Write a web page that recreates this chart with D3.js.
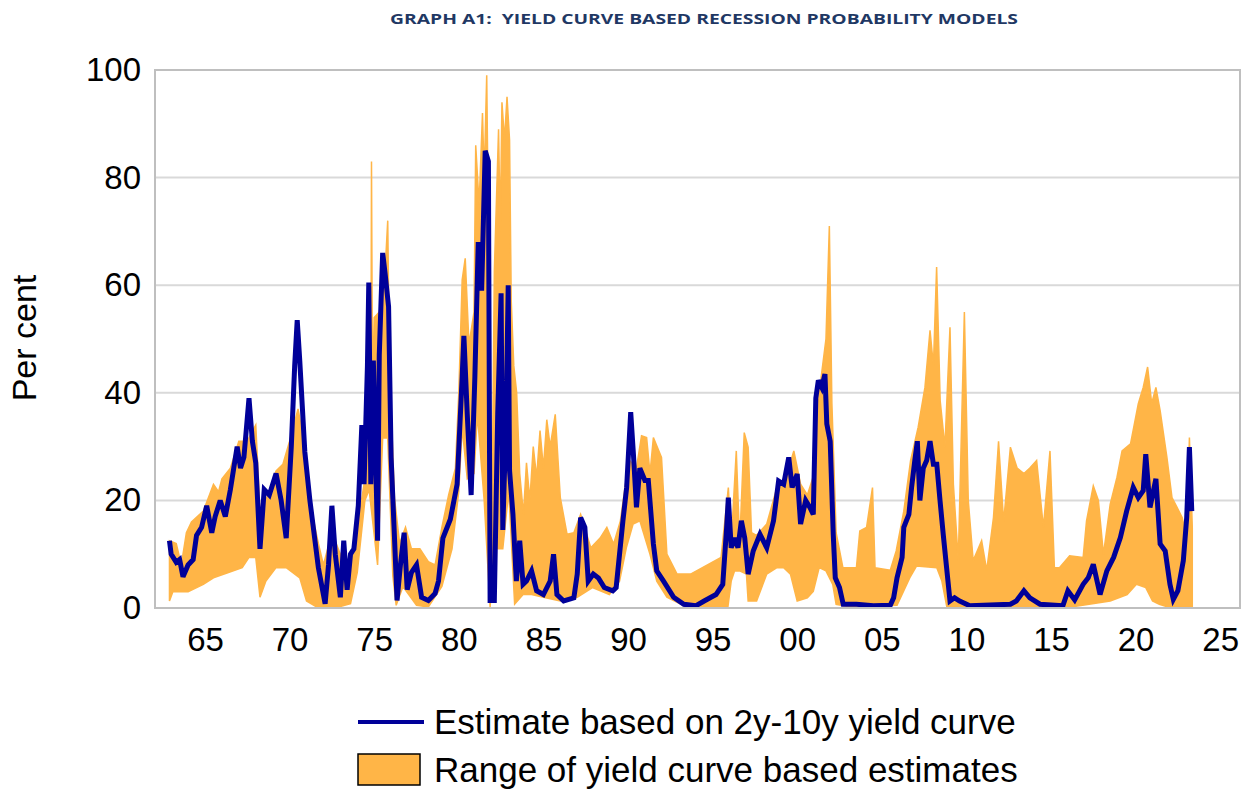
<!DOCTYPE html>
<html>
<head>
<meta charset="utf-8">
<script src="https://cdn.jsdelivr.net/npm/d3@7"></script>
<style>
body { margin: 0; background: #fff; }
</style>
</head>
<body>
<script>
// [year, per cent]
var estimate = [
  [1962.9,12.5],[1963.0,10],[1963.3,8.5],[1963.5,9],[1963.7,5.8],[1964.0,8],[1964.3,9],[1964.5,13.5],
  [1964.8,15],[1965.1,19],[1965.4,14],[1965.6,17],[1965.9,20],[1966.2,17],[1966.5,22],[1966.9,30],
  [1967.1,26],[1967.3,28],[1967.6,39],[1967.8,31],[1968.0,27],[1968.25,11],[1968.5,22],[1968.8,21],
  [1969.2,25],[1969.5,20],[1969.8,13],[1970.1,30],[1970.3,45],[1970.45,53.5],[1970.6,46],[1970.9,29],
  [1971.2,20],[1971.4,15],[1971.7,7.5],[1972.1,0.8],[1972.3,8],[1972.5,19],[1972.7,10],[1973.0,2],
  [1973.2,12.5],[1973.4,3.4],[1973.6,10],[1973.8,11],[1974.06,19],[1974.27,34],[1974.4,23],[1974.6,45],
  [1974.68,60.5],[1974.8,23],[1974.95,46],[1975.2,12.5],[1975.3,47],[1975.5,66],[1975.65,62],[1975.85,56],
  [1976.0,28],[1976.2,13],[1976.35,1.4],[1976.55,8],[1976.77,14],[1976.95,3.4],[1977.2,6.6],[1977.5,8],
  [1977.8,2],[1978.2,1.4],[1978.6,2.7],[1978.8,5],[1979.06,13],[1979.5,16.5],[1979.9,23],[1980.2,43],
  [1980.3,50.6],[1980.5,36],[1980.73,21],[1980.95,43],[1981.15,68],[1981.35,59],[1981.56,85],[1981.75,83],
  [1981.85,1.4],[1982.1,1.4],[1982.3,36],[1982.5,58.5],[1982.6,14.5],[1982.8,36],[1982.92,60],[1983.0,25.5],
  [1983.2,17.4],[1983.4,5],[1983.6,12.5],[1983.8,4.4],[1984.0,5],[1984.3,6.9],[1984.6,3.2],[1985.0,2.5],
  [1985.4,5],[1985.6,10],[1985.8,2.5],[1986.2,1.3],[1986.8,1.9],[1987.0,6.3],[1987.2,16.8],[1987.45,15],
  [1987.65,5],[1987.95,6.3],[1988.25,5.6],[1988.6,3.8],[1989.1,3.2],[1989.3,3.8],[1989.7,16.2],[1989.92,22.4],
  [1990.16,36.4],[1990.32,28.6],[1990.5,18.7],[1990.7,26],[1991.0,23.7],[1991.2,23.7],[1991.5,11.9],[1991.7,6.9],
  [1992.1,5],[1992.7,2],[1993.3,0.7],[1994.0,0.4],[1994.5,1.3],[1994.85,1.9],[1995.2,2.5],[1995.6,4.4],
  [1995.83,15],[1995.93,20.5],[1996.1,11.2],[1996.3,13],[1996.5,11.2],[1996.7,16.2],[1996.9,13],[1997.1,6.3],
  [1997.4,10.6],[1997.8,13.7],[1998.2,11.2],[1998.6,16.2],[1998.9,23.6],[1999.2,23],[1999.5,28],[1999.7,22.4],
  [2000.0,24.9],[2000.2,15.6],[2000.5,20],[2000.75,18.7],[2000.95,17.4],[2001.1,39],[2001.25,42.3],[2001.45,41],
  [2001.64,43.5],[2001.75,34.2],[2001.95,31],[2002.13,13.7],[2002.25,5.6],[2002.5,3.8],[2002.72,0.7],[2003.5,0.7],
  [2004.5,0.4],[2005.5,0.5],[2005.7,1.9],[2005.9,5.6],[2006.2,9.4],[2006.3,15],[2006.6,17.4],[2006.76,22.4],
  [2006.95,27.4],[2007.1,31],[2007.25,20],[2007.45,26],[2007.65,27.4],[2007.85,31],[2008.05,26.7],[2008.25,26.7],
  [2008.44,20],[2008.63,13.7],[2008.83,7.5],[2009.03,1.3],[2009.3,1.9],[2009.6,1.3],[2010.2,0.4],[2012.6,0.7],
  [2012.95,1.3],[2013.4,3.2],[2013.75,1.9],[2014.35,0.7],[2015.7,0.4],[2016.0,3.2],[2016.4,1.5],[2016.9,4.4],
  [2017.2,5.6],[2017.5,8.1],[2017.9,2.5],[2018.3,6.9],[2018.7,9.4],[2019.1,13.1],[2019.47,18],[2019.86,22.4],
  [2020.16,20.5],[2020.45,21.8],[2020.6,28.6],[2020.85,18.7],[2021.2,24],[2021.45,11.9],[2021.75,10.6],[2022.03,4.4],
  [2022.23,1.6],[2022.5,3.2],[2022.82,8.8],[2023.02,16.8],[2023.18,29.9],[2023.32,18]
];

var rangeHigh = [
  [1962.9,12.5],[1963.3,12],[1963.6,8],[1963.9,14],[1964.2,16],[1964.9,18],[1965.5,23],[1965.8,21.6],
  [1966.0,24],[1966.5,26],[1967.0,31],[1967.5,31],[1968.0,34],[1968.25,18],[1968.6,20],[1969.2,25.5],
  [1969.6,26.7],[1970.0,31],[1970.5,37],[1970.9,30],[1971.2,20],[1971.5,15],[1971.7,12],[1972.0,8],
  [1972.5,14],[1973.0,10],[1973.4,5],[1973.8,11],[1974.25,20],[1974.45,24],[1974.65,56],[1974.8,30],
  [1974.84,83],[1974.9,40],[1975.0,54],[1975.3,55],[1975.6,60],[1975.8,72],[1975.9,45],[1976.2,20.4],
  [1976.5,12],[1976.85,15],[1977.2,11],[1977.7,11],[1978.2,8.6],[1978.6,8],[1979.0,15],[1979.4,21],
  [1979.8,26],[1980.0,40],[1980.2,61],[1980.38,65],[1980.6,49],[1980.9,55],[1981.0,86],[1981.2,75],
  [1981.4,92],[1981.5,80],[1981.65,99],[1981.75,70],[1981.85,20],[1982.0,30],[1982.1,62.5],[1982.35,89],
  [1982.45,70],[1982.55,94],[1982.7,87],[1982.85,95],[1983.0,87],[1983.1,57],[1983.25,45],[1983.42,40],
  [1983.6,25],[1983.82,17.4],[1984.0,27],[1984.2,20],[1984.4,30],[1984.6,24.3],[1984.8,33],[1985.0,26],
  [1985.2,35],[1985.4,30],[1985.7,36],[1986.0,20.5],[1986.4,13.7],[1986.8,14],[1987.2,17.4],[1987.8,11.2],
  [1988.35,13],[1988.75,15],[1989.15,11.9],[1989.55,16.2],[1989.85,23],[1990.1,27.4],[1990.5,26],[1990.8,32],
  [1991.1,31.7],[1991.3,25],[1991.5,31.7],[1991.98,28],[1992.3,10],[1992.9,6.3],[1993.7,6.3],[1995.5,9.4],
  [1995.93,22.4],[1996.1,12],[1996.4,29.2],[1996.6,12],[1996.87,32.6],[1997.1,29.9],[1997.3,14],[1997.6,13.5],
  [1998.2,15.6],[1998.8,22.4],[1999.4,24.9],[1999.8,29.2],[2000.2,23],[2000.6,21],[2001.0,24.9],[2001.3,40],
  [2001.7,50],[2001.9,71],[2002.05,38],[2002.3,14],[2002.7,7.5],[2003.5,7.5],[2003.7,14.3],[2004.1,15],
  [2004.45,22.4],[2004.6,7.5],[2005.5,7],[2005.85,10.6],[2006.3,18],[2006.7,27.4],[2007.15,33.6],[2007.55,41],
  [2007.85,51.6],[2008.05,45],[2008.24,63.4],[2008.45,38.5],[2008.73,29.9],[2009.03,52.2],[2009.23,23],[2009.52,8.8],
  [2009.88,55],[2010.11,20],[2010.4,8.8],[2010.9,12.5],[2011.2,7],[2011.6,16.8],[2011.9,31],[2012.2,16],
  [2012.6,29.9],[2013.0,26],[2013.4,25],[2013.75,26],[2014.15,27.4],[2014.55,15],[2014.94,29.2],[2015.2,7.5],
  [2015.5,7.5],[2016.1,9.7],[2016.9,9.4],[2017.1,16.2],[2017.5,22.7],[2017.8,20],[2018.1,10],[2018.5,19.3],
  [2018.9,24.3],[2019.2,29.2],[2019.7,30.5],[2020.16,38],[2020.45,41],[2020.71,44.8],[2020.95,38],[2021.2,41],
  [2021.45,36.7],[2021.85,28],[2022.15,20.5],[2022.45,18.7],[2022.75,16.8],[2023.02,13.1],[2023.18,31.7],[2023.35,15]
];

var rangeLow = [
  [1962.9,1.3],[1963.1,3],[1964.0,3],[1964.9,4.4],[1965.5,5.6],[1966.3,6.5],[1967.2,7.5],[1967.6,9.4],
  [1968.0,9.4],[1968.25,2],[1968.6,5],[1969.2,7.5],[1969.8,7.5],[1970.6,5.6],[1971.0,1.3],[1971.6,0.2],
  [1972.2,0.2],[1973.0,0.3],[1973.6,0.8],[1974.0,6.6],[1974.45,20],[1974.7,22],[1975.2,8],[1975.5,31.6],
  [1975.8,31.6],[1976.1,6],[1976.3,0.5],[1976.7,4],[1977.5,0.5],[1978.2,0.2],[1979.0,4],[1979.6,11],
  [1980.0,21.7],[1980.2,33.5],[1980.5,24],[1980.9,25],[1981.1,36],[1981.5,20],[1981.85,0.2],[1982.1,11],
  [1982.6,11],[1982.95,21.7],[1983.3,0.7],[1983.8,2.5],[1984.3,2.5],[1985.0,2],[1986.0,1.3],[1987.0,2],
  [1987.9,3.8],[1988.9,2.5],[1989.5,5],[1989.9,11.2],[1990.3,15.6],[1990.7,16.2],[1991.3,10],[1991.7,5],
  [1992.3,2],[1993.3,0.4],[1995.6,0.1],[1995.9,0.1],[1996.1,5],[1996.3,6.9],[1996.6,6.9],[1997.0,6.3],
  [1997.1,1.3],[1997.6,1.3],[1998.2,6.3],[1998.8,7.5],[1999.2,7.5],[1999.6,6.3],[2000.0,1.3],[2000.6,1.9],
  [2000.95,3.1],[2001.3,7.5],[2001.7,6.9],[2002.1,4.4],[2002.3,0.7],[2003.0,0.3],[2005.9,0.5],[2006.65,5.6],
  [2007.05,7.8],[2008.25,7.5],[2008.55,5],[2008.85,0.1],[2012.0,0.1],[2013.4,0.3],[2016.0,0.1],[2018.5,1.3],
  [2019.5,2.5],[2020.05,4.4],[2020.6,3.8],[2021.0,1.3],[2021.4,0.7],[2022.0,0.1],[2023.35,0.1]
];

var tickYears = [1965, 1970, 1975, 1980, 1985, 1990, 1995, 2000, 2005, 2010, 2015, 2020, 2025];
var tickLabels = ["65", "70", "75", "80", "85", "90", "95", "00", "05", "10", "15", "20", "25"];
var yTicks = [0, 20, 40, 60, 80, 100];

var svg = d3.select("body").append("svg")
  .attr("width", 1250)
  .attr("height", 789);

var x = d3.scaleLinear().domain([1962.045, 2026.17]).range([155, 1240]);
var y = d3.scaleLinear().domain([0, 100]).range([608, 70]);

svg.append("text")
  .attr("x", 704)
  .attr("y", 24)
  .attr("text-anchor", "middle")
  .attr("font-family", "Open Sans")
  .attr("font-weight", 700)
  .attr("font-size", 14)
  .attr("textLength", 628)
  .attr("lengthAdjust", "spacingAndGlyphs")
  .style("white-space", "pre")
  .style("fill", "#1f3864")
  .text("GRAPH A1:  YIELD CURVE BASED RECESSION PROBABILITY MODELS");

// gridlines
svg.selectAll("line.grid")
  .data(yTicks.filter(function(d) { return d > 0 && d < 100; }))
  .enter()
  .append("line")
  .attr("class", "grid")
  .attr("x1", 155).attr("x2", 1240)
  .attr("y1", function(d) { return y(d); })
  .attr("y2", function(d) { return y(d); })
  .style("stroke", "#d9d9d9")
  .style("stroke-width", 2);

// orange range: upper edge forward, lower edge back
var rangePoly = rangeHigh.concat(rangeLow.slice().reverse());
var line = d3.line()
  .x(function(d) { return x(d[0]); })
  .y(function(d) { return y(d[1]); });

svg.append("path")
  .attr("d", line(rangePoly) + "Z")
  .style("fill", "#ffb547")
  .style("stroke", "#ffb547")
  .style("stroke-width", 1.5);

svg.append("path")
  .attr("d", line(estimate))
  .style("fill", "none")
  .style("stroke", "#000099")
  .style("stroke-width", 5)
  .style("stroke-linejoin", "miter")
  .style("stroke-miterlimit", 3);

// plot frame
svg.append("rect")
  .attr("x", 155).attr("y", 70)
  .attr("width", 1085).attr("height", 538)
  .style("fill", "none")
  .style("stroke", "#bfbfbf")
  .style("stroke-width", 2);

var yAxis = svg.append("g")
  .attr("transform", "translate(155,0)")
  .call(d3.axisLeft(y).tickValues(yTicks).tickSize(0).tickPadding(14));
yAxis.select(".domain").remove();
yAxis.selectAll("text")
  .attr("font-family", "Liberation Sans, Arial, sans-serif")
  .attr("font-size", 33)
  .style("fill", "#000");

var xAxis = svg.append("g")
  .attr("transform", "translate(0,608)")
  .call(d3.axisBottom(x).tickValues(tickYears).tickSize(0).tickPadding(20)
    .tickFormat(function(d, i) { return tickLabels[i]; }));
xAxis.select(".domain").remove();
xAxis.selectAll("text")
  .attr("font-family", "Liberation Sans, Arial, sans-serif")
  .attr("font-size", 33)
  .style("fill", "#000");

svg.append("text")
  .attr("transform", "translate(36,338) rotate(-90)")
  .attr("text-anchor", "middle")
  .attr("font-family", "Liberation Sans, Arial, sans-serif")
  .attr("font-size", 34)
  .text("Per cent");

// legend
svg.append("line")
  .attr("x1", 358).attr("x2", 424)
  .attr("y1", 722).attr("y2", 722)
  .style("stroke", "#000099")
  .style("stroke-width", 4);
svg.append("text")
  .attr("x", 434).attr("y", 734)
  .attr("font-family", "Liberation Sans, Arial, sans-serif")
  .attr("font-size", 35)
  .text("Estimate based on 2y-10y yield curve");

svg.append("rect")
  .attr("x", 358).attr("y", 754)
  .attr("width", 62).attr("height", 31)
  .style("fill", "#ffb547")
  .style("stroke", "#000")
  .style("stroke-width", 1.5);
svg.append("text")
  .attr("x", 434).attr("y", 782)
  .attr("font-family", "Liberation Sans, Arial, sans-serif")
  .attr("font-size", 35)
  .text("Range of yield curve based estimates");
</script>
</body>
</html>
